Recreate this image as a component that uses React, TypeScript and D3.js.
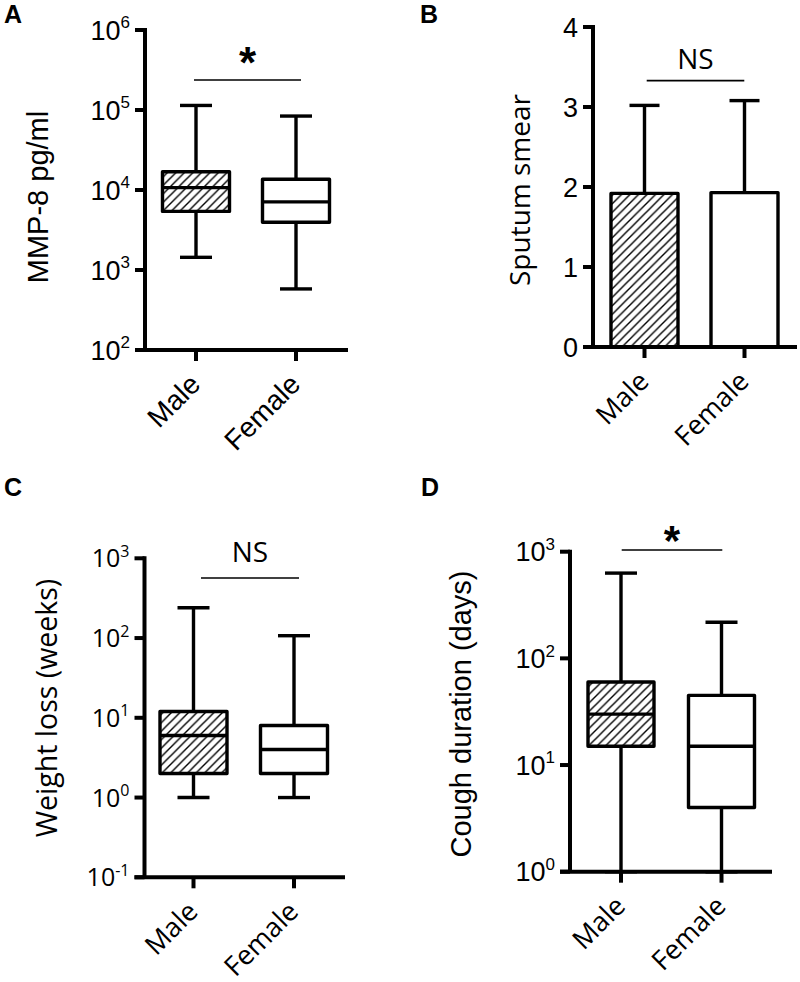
import React from "react";
import * as d3 from "d3";

// ---------- data ----------
const categories = ["Male", "Female"];

// Panel A: MMP-8 pg/ml (box plot, log scale)
const mmpMin = [1440, 580];
const mmpQ1 = [5400, 3950];
const mmpMedian = [10700, 7100];
const mmpQ3 = [16900, 13600];
const mmpMax = [114000, 84000];
const mmpTicks = [2, 3, 4, 5, 6];

// Panel B: Sputum smear (bar + SD)
const smearMean = [1.92, 1.93];
const smearErr = [3.02, 3.08];
const smearTicks = [0, 1, 2, 3, 4];

// Panel C: Weight loss (weeks)
const wlMin = [1, 1];
const wlQ1 = [2, 2];
const wlMedian = [6, 4];
const wlQ3 = [12, 8];
const wlMax = [240, 107];
const wlTicks = [-1, 0, 1, 2, 3];

// Panel D: Cough duration (days)
const cdMin = [1, 1];
const cdQ1 = [15, 4];
const cdMedian = [30, 15];
const cdQ3 = [60, 45];
const cdMax = [630, 218];
const cdTicks = [0, 1, 2, 3];

const sigLabels = ["*", "NS", "NS", "*"];

const ARIAL = "'Liberation Sans', Arial, Helvetica, sans-serif";
const OPEN = "'Open Sans', 'Noto Sans', sans-serif";

const AX_W = 4;
const BOX_W = 3.4;

type PanelGeo = {
  axisX: number;
  top: number;
  bottom: number;
  right: number;
  c1: number;
  c2: number;
};

function Hatch() {
  return (
    <defs>
      <pattern id="hatch" patternUnits="userSpaceOnUse" width={8.5} height={8.5}>
        <rect width={8.5} height={8.5} fill="white" />
        <path
          d="M-1,1 L1,-1 M0,8.5 L8.5,0 M7.5,9.5 L9.5,7.5"
          stroke="black"
          strokeWidth={1.4}
        />
      </pattern>
    </defs>
  );
}

function YAxis({ geo, y, ticks, log, font, size, supSize }: any) {
  return (
    <g>
      <line x1={geo.axisX} x2={geo.axisX} y1={geo.top - AX_W / 2} y2={geo.bottom} stroke="black" strokeWidth={AX_W} />
      {ticks.map((t: number) => {
        const v = log ? Math.pow(10, t) : t;
        const yy = y(v);
        return (
          <g key={t}>
            <line x1={geo.axisX - 10} x2={geo.axisX} y1={yy} y2={yy} stroke="black" strokeWidth={AX_W} />
            {log ? (
              <text x={geo.axisX - 15} y={yy + size * 0.36} textAnchor="end" fontFamily={font} fontSize={size}>
                10
                <tspan fontSize={supSize} dy={-size * 0.42}>{String(t)}</tspan>
              </text>
            ) : (
              <text x={geo.axisX - 15} y={yy + size * 0.36} textAnchor="end" fontFamily={font} fontSize={size}>
                {t}
              </text>
            )}
          </g>
        );
      })}
    </g>
  );
}

function XAxis({ geo, x, font, size }: any) {
  return (
    <g>
      <line x1={geo.axisX - 10} x2={geo.right} y1={geo.bottom} y2={geo.bottom} stroke="black" strokeWidth={AX_W} />
      {categories.map((c) => {
        const xx = x(c);
        return (
          <g key={c}>
            <line x1={xx} x2={xx} y1={geo.bottom} y2={geo.bottom + 11} stroke="black" strokeWidth={AX_W} />
            <text
              transform={`translate(${xx + 6},${geo.bottom + 36}) rotate(-45)`}
              textAnchor="end"
              fontFamily={font}
              fontSize={size}
            >
              {c}
            </text>
          </g>
        );
      })}
    </g>
  );
}

function Boxes({ x, y, mins, q1, med, q3, maxs, boxW, capW }: any) {
  return (
    <g stroke="black" strokeWidth={BOX_W} strokeLinejoin="round">
      {categories.map((c, i) => {
        const cx = x(c);
        return (
          <g key={c}>
            <line x1={cx} x2={cx} y1={y(q3[i])} y2={y(maxs[i])} />
            <line x1={cx} x2={cx} y1={y(q1[i])} y2={y(mins[i])} />
            <line x1={cx - capW / 2} x2={cx + capW / 2} y1={y(maxs[i])} y2={y(maxs[i])} />
            <line x1={cx - capW / 2} x2={cx + capW / 2} y1={y(mins[i])} y2={y(mins[i])} />
            <rect
              x={cx - boxW / 2}
              y={y(q3[i])}
              width={boxW}
              height={y(q1[i]) - y(q3[i])}
              fill={i === 0 ? "url(#hatch)" : "white"}
            />
            <line x1={cx - boxW / 2} x2={cx + boxW / 2} y1={y(med[i])} y2={y(med[i])} />
          </g>
        );
      })}
    </g>
  );
}

function Sig({ x1, x2, yy, label, font, size, bold, dy }: any) {
  return (
    <g>
      <line x1={x1} x2={x2} y1={yy} y2={yy} stroke="black" strokeWidth={1.7} />
      <text
        x={(x1 + x2) / 2}
        y={yy + dy}
        textAnchor="middle"
        fontFamily={font}
        fontSize={size}
        fontWeight={bold ? "bold" : "normal"}
      >
        {label}
      </text>
    </g>
  );
}

function PanelLabel({ x, y, t }: any) {
  return (
    <text x={x} y={y} fontFamily={ARIAL} fontWeight="bold" fontSize={25}>
      {t}
    </text>
  );
}

export default function App() {
  // Panel A
  const gA: PanelGeo = { axisX: 145, top: 30, bottom: 350, right: 348, c1: 196, c2: 296 };
  const yA = d3.scaleLog().domain([1e2, 1e6]).range([gA.bottom, gA.top]);
  const xA = d3.scalePoint<string>().domain(categories).range([gA.c1, gA.c2]);

  // Panel B
  const gB: PanelGeo = { axisX: 593, top: 27, bottom: 347, right: 797, c1: 644.5, c2: 744.5 };
  const yB = d3.scaleLinear().domain([0, 4]).range([gB.bottom, gB.top]);
  const xB = d3.scalePoint<string>().domain(categories).range([gB.c1, gB.c2]);

  // Panel C
  const gC: PanelGeo = { axisX: 144.5, top: 558.3, bottom: 877.3, right: 345, c1: 193.5, c2: 294 };
  const yC = d3.scaleLog().domain([1e-1, 1e3]).range([gC.bottom, gC.top]);
  const xC = d3.scalePoint<string>().domain(categories).range([gC.c1, gC.c2]);

  // Panel D
  const gD: PanelGeo = { axisX: 570, top: 551.7, bottom: 871.7, right: 772, c1: 621, c2: 721.5 };
  const yD = d3.scaleLog().domain([1e0, 1e3]).range([gD.bottom, gD.top]);
  const xD = d3.scalePoint<string>().domain(categories).range([gD.c1, gD.c2]);

  return (
    <svg width={800} height={982} style={{ position: "absolute", left: 0, top: 0, background: "white" }}>
      <Hatch />
      <rect width={800} height={982} fill="white" />

      {/* Panel A */}
      <PanelLabel x={4} y={23} t="A" />
      <text transform="translate(48,197) rotate(-90)" textAnchor="middle" fontFamily={ARIAL} fontSize={29}>
        MMP-8 pg/ml
      </text>
      <Boxes x={xA} y={yA} mins={mmpMin} q1={mmpQ1} med={mmpMedian} q3={mmpQ3} maxs={mmpMax} boxW={67} capW={32} />
      <YAxis geo={gA} y={yA} ticks={mmpTicks} log font={ARIAL} size={27} supSize={17} />
      <XAxis geo={gA} x={xA} font={ARIAL} size={28} />
      <Sig x1={194} x2={301} yy={80} label={sigLabels[0]} font={ARIAL} size={44} bold dy={-2.5} />

      {/* Panel B */}
      <PanelLabel x={420} y={23} t="B" />
      <text transform="translate(530,190) rotate(-90)" textAnchor="middle" fontFamily={OPEN} fontSize={28}>
        Sputum smear
      </text>
      <g stroke="black" strokeWidth={BOX_W} strokeLinejoin="round">
        {categories.map((c, i) => {
          const cx = xB(c)!;
          return (
            <g key={c}>
              <line x1={cx} x2={cx} y1={yB(smearMean[i])} y2={yB(smearErr[i])} />
              <line x1={cx - 15} x2={cx + 15} y1={yB(smearErr[i])} y2={yB(smearErr[i])} />
              <rect
                x={cx - 33.5}
                y={yB(smearMean[i])}
                width={67}
                height={yB(0) - yB(smearMean[i])}
                fill={i === 0 ? "url(#hatch)" : "white"}
              />
            </g>
          );
        })}
      </g>
      <YAxis geo={gB} y={yB} ticks={smearTicks} font={ARIAL} size={27} supSize={17} />
      <XAxis geo={gB} x={xB} font={OPEN} size={27} />
      <Sig x1={646.7} x2={744.3} yy={80.7} label={sigLabels[1]} font={OPEN} size={28} dy={-12} />

      {/* Panel C */}
      <PanelLabel x={4} y={496} t="C" />
      <text transform="translate(57,708) rotate(-90)" textAnchor="middle" fontFamily={OPEN} fontSize={28.5}>
        Weight loss (weeks)
      </text>
      <Boxes x={xC} y={yC} mins={wlMin} q1={wlQ1} med={wlMedian} q3={wlQ3} maxs={wlMax} boxW={67} capW={32} />
      <YAxis geo={gC} y={yC} ticks={wlTicks} log font={OPEN} size={25} supSize={16} />
      <XAxis geo={gC} x={xC} font={OPEN} size={27} />
      <Sig x1={201} x2={299} yy={578} label={sigLabels[2]} font={OPEN} size={28} dy={-16} />

      {/* Panel D */}
      <PanelLabel x={421} y={496} t="D" />
      <text transform="translate(471,714) rotate(-90)" textAnchor="middle" fontFamily={ARIAL} fontSize={29}>
        Cough duration (days)
      </text>
      <Boxes x={xD} y={yD} mins={cdMin} q1={cdQ1} med={cdMedian} q3={cdQ3} maxs={cdMax} boxW={66} capW={32} />
      <YAxis geo={gD} y={yD} ticks={cdTicks} log font={ARIAL} size={27} supSize={17} />
      <XAxis geo={gD} x={xD} font={OPEN} size={27} />
      <Sig x1={621.7} x2={722.3} yy={550} label={sigLabels[3]} font={ARIAL} size={42} bold dy={5} />
    </svg>
  );
}
